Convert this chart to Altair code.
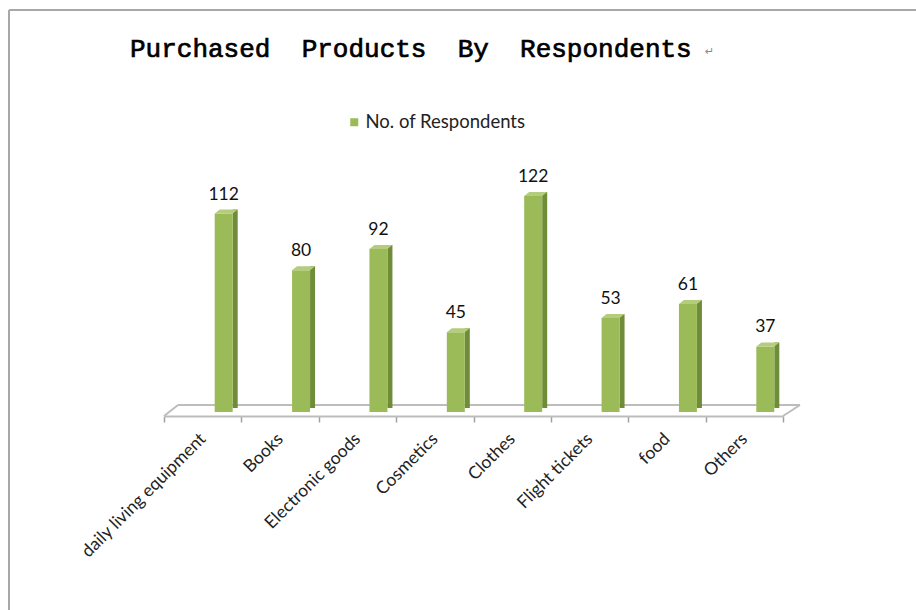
import altair as alt
import pandas as pd

categories = ["daily living equipment", "Books", "Electronic goods", "Cosmetics",
              "Clothes", "Flight tickets", "food", "Others"]
values = [112, 80, 92, 45, 122, 53, 61, 37]
series_name = "No. of Respondents"
title_text = "Purchased\u00a0 Products\u00a0 By\u00a0 Respondents"

df = pd.DataFrame({"category": categories, "value": values,
                   "series": [series_name] * len(categories)})

W, H = 619, 248
FRONT = "#9BBB59"
SIDE = "#6F8C38"
TOP = "#B3CD7C"
FLOOR = "#BDBDBD"

x_enc = alt.X("category:N", sort=categories, title=None,
              scale=alt.Scale(paddingInner=0, paddingOuter=0),
              axis=alt.Axis(labelAngle=-45, labelAlign="right", labelBaseline="middle",
                            tickBand="extent", offset=4, tickSize=6, labelPadding=14,
                            domainColor=FLOOR, domainWidth=2, tickColor="#A0A0A0",
                            tickWidth=1.5, labelFont="Lato", labelFontSize=17.5,
                            labelColor="#222222", grid=False))
y_enc = alt.Y("value:Q", scale=alt.Scale(domain=[0, 140], nice=False), axis=None, title=None)

one = alt.Data(values=[{"k": 0}])

# floor (3D platform) decoration
floor_back = alt.Chart(one).mark_rule(color=FLOOR, strokeWidth=2).encode(
    x=alt.value(14), x2=alt.value(636), y=alt.value(241))
floor_left = alt.Chart(one).mark_rule(color=FLOOR, strokeWidth=2).encode(
    x=alt.value(0), x2=alt.value(14), y=alt.value(252), y2=alt.value(241))
floor_right = alt.Chart(one).mark_rule(color=FLOOR, strokeWidth=2).encode(
    x=alt.value(619), x2=alt.value(636), y=alt.value(252), y2=alt.value(241))

# page frame
frame_top = alt.Chart(one).mark_rule(color="#A8A8A8", strokeWidth=2).encode(
    x=alt.value(-155), x2=alt.value(760), y=alt.value(-154))
frame_left = alt.Chart(one).mark_rule(color="#A8A8A8", strokeWidth=2).encode(
    x=alt.value(-155), y=alt.value(-154), y2=alt.value(450))

side = alt.Chart(df).mark_bar(width=5, xOffset=32.5, yOffset=-4, y2Offset=-4,
                              color=SIDE).encode(x=x_enc, y=y_enc)
front = alt.Chart(df).mark_bar(width=18, xOffset=21).encode(
    x=x_enc, y=y_enc,
    color=alt.Color("series:N", scale=alt.Scale(range=[FRONT]),
                    legend=alt.Legend(orient="none", legendX=181, legendY=-51, title=None,
                                      symbolType="square", symbolSize=64,
                                      symbolStrokeWidth=0, labelFont="Lato",
                                      labelFontSize=18.5, labelColor="#222222",
                                      padding=0, labelOffset=2)))
top = alt.Chart(df).mark_point(shape="M -11.5 2 L -6.5 -2 L 11.5 -2 L 6.5 2 Z", size=4,
                               filled=True, color=TOP, opacity=1, strokeWidth=0,
                               xOffset=23.5, yOffset=-2).encode(x=x_enc, y=y_enc)
labels = alt.Chart(df).mark_text(dx=21, dy=-10, baseline="bottom", font="Lato",
                                 fontSize=17.5, color="#111111").encode(
    x=x_enc, y=y_enc, text=alt.Text("value:Q"))

title = alt.Chart(alt.Data(values=[{"t": title_text}])).mark_text(
    align="left", baseline="alphabetic", font="Liberation Mono", fontSize=26,
    color="#000000", stroke="#000000", strokeWidth=0.7).encode(
    x=alt.value(-34), y=alt.value(-107), text="t:N")
pilcrow = alt.Chart(alt.Data(values=[{"t": "\u21b5"}])).mark_text(
    align="left", baseline="alphabetic", font="DejaVu Sans", fontSize=11,
    color="#8A8A8A").encode(x=alt.value(541), y=alt.value(-109), text="t:N")

chart = alt.layer(frame_top, frame_left, floor_back, floor_left, floor_right,
                  side, front, top, labels, title, pilcrow).properties(
    width=W, height=H,
    autosize=alt.AutoSizeParams(type="none"),
    padding={"left": 164, "top": 164, "right": 133, "bottom": 198},
    background="white",
).configure_view(stroke=None)

chart.save("out.html", embed_options={"renderer": "svg", "actions": False})
